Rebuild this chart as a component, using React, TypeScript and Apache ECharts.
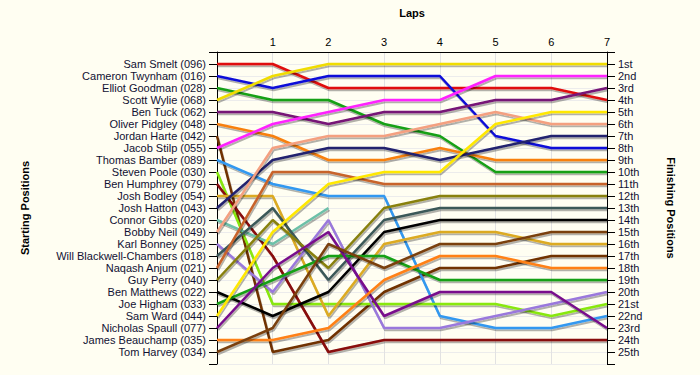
import React, { useEffect, useRef } from "react";
import * as echarts from "echarts";

const laps = [0, 1, 2, 3, 4, 5, 6, 7];
const startNames = [
  "Sam Smelt (096)", "Cameron Twynham (016)", "Elliot Goodman (028)", "Scott Wylie (068)",
  "Ben Tuck (062)", "Oliver Pidgley (048)", "Jordan Harte (042)", "Jacob Stilp (055)",
  "Thomas Bamber (089)", "Steven Poole (030)", "Ben Humphrey (079)", "Josh Bodley (054)",
  "Josh Hatton (043)", "Connor Gibbs (020)", "Bobby Neil (049)", "Karl Bonney (025)",
  "Will Blackwell-Chambers (018)", "Naqash Anjum (021)", "Guy Perry (040)", "Ben Matthews (022)",
  "Joe Higham (033)", "Sam Ward (044)", "Nicholas Spaull (077)", "James Beauchamp (035)",
  "Tom Harvey (034)",
];
const finishLabels = [
  "1st", "2nd", "3rd", "4th", "5th", "6th", "7th", "8th", "9th", "10th", "11th", "12th",
  "13th", "14th", "15th", "16th", "17th", "18th", "19th", "20th", "21st", "22nd", "23rd",
  "24th", "25th",
];

// positions at laps 0..7
const samSmelt = [1, 1, 3, 3, 3, 3, 3, 4];
const cameronTwynham = [2, 3, 2, 2, 2, 7, 8, 8];
const elliotGoodman = [3, 4, 4, 6, 7, 10, 10, 10];
const scottWylie = [4, 2, 1, 1, 1, 1, 1, 1];
const benTuck = [5, 5, 6, 5, 5, 4, 4, 3];
const oliverPidgley = [6, 7, 9, 9, 8, 9, 9, 9];
const jordanHarte = [7, 25, 24, 20, 18, 18, 17, 17];
const jacobStilp = [8, 6, 5, 4, 4, 2, 2, 2];
const thomasBamber = [9, 11, 12, 12, 22, 23, 23, 22];
const stevenPoole = [10, 21, 21, 21, 21, 21, 22, 21];
const benHumphrey = [11, 17, 25, 24, 24, 24, 24, 24];
const joshBodley = [12, 12, 22, 16, 15, 15, 16, 16];
const joshHatton = [13, 9, 8, 8, 9, 8, 7, 7];
const connorGibbs = [14, 16, 13, null, null, null, null, null];
const bobbyNeil = [15, 8, 7, 7, 6, 5, 6, 6];
const karlBonney = [16, 20, 14, 23, 23, 22, 21, 20];
const willBlackwellChambers = [17, 13, 19, 14, 13, 13, 13, 13];
const naqashAnjum = [18, 10, 10, 11, 11, 11, 11, 11];
const guyPerry = [19, 14, 18, 13, 12, 12, 12, 12];
const benMatthews = [20, 22, 20, 15, 14, 14, 14, 14];
const joeHigham = [21, 19, 17, 17, 19, 19, 19, 19];
const samWard = [22, 15, 11, 10, 10, 6, 5, 5];
const nicholasSpaull = [23, 18, 15, 22, 20, 20, 20, 23];
const jamesBeauchamp = [24, 24, 23, 19, 17, 17, 18, 18];
const tomHarvey = [25, 23, 16, 18, 16, 16, 15, 15];

const driverPositions = [
  samSmelt, cameronTwynham, elliotGoodman, scottWylie, benTuck, oliverPidgley, jordanHarte,
  jacobStilp, thomasBamber, stevenPoole, benHumphrey, joshBodley, joshHatton, connorGibbs,
  bobbyNeil, karlBonney, willBlackwellChambers, naqashAnjum, guyPerry, benMatthews, joeHigham,
  samWard, nicholasSpaull, jamesBeauchamp, tomHarvey,
];

const colors = [
  "#e01010", "#1010d8", "#16a016", "#f0dc00", "#761276", "#f88010", "#703000",
  "#ff20ff", "#3398f0", "#88e810", "#880808", "#dcaa20", "#20206e", "#6cc0a8",
  "#f4a080", "#9a78dc", "#3a5858", "#c8642a", "#888010", "#000000", "#16a016",
  "#ffe800", "#780c8c", "#ff8014", "#7a4010",
];

export default function App() {
  const ref = useRef<HTMLDivElement>(null);
  useEffect(() => {
    if (!ref.current) return;
    const chart = echarts.init(ref.current, null, { renderer: "svg" });
    const font = "Liberation Sans";
    const series = driverPositions.map((pos, i) => ({
      type: "line",
      name: startNames[i],
      yAxisIndex: 0,
      symbol: "none",
      connectNulls: false,
      z: 2 + i,
      data: laps.map((l, j) => [l, pos[j]]),
      lineStyle: {
        color: colors[i],
        width: 2.5,
        shadowColor: "rgba(0,0,0,0.3)",
        shadowOffsetY: 2,
        shadowOffsetX: 1,
        shadowBlur: 1,
      },
    }));
    chart.setOption({
      animation: false,
      backgroundColor: "#fffef2",
      grid: { left: 217, right: 93, top: 52, bottom: 11 },
      xAxis: {
        type: "value",
        position: "top",
        min: 0,
        max: 7,
        interval: 1,
        name: "Laps",
        nameLocation: "middle",
        nameGap: 34,
        nameTextStyle: { fontFamily: font, fontSize: 11, fontWeight: "bold", color: "#000" },
        axisLine: { show: true, lineStyle: { color: "#000", width: 1 } },
        axisTick: { show: false },
        axisLabel: {
          margin: 5,
          fontFamily: font,
          fontSize: 11,
          color: "#000",
          formatter: (v: number) => (v === 0 ? "" : String(v)),
        },
        splitLine: { show: true, lineStyle: { color: "#e2e2e2", width: 1 } },
      },
      yAxis: [
        {
          type: "value",
          inverse: true,
          min: 0,
          max: 26,
          interval: 1,
          position: "left",
          name: "Starting Positions",
          nameLocation: "middle",
          nameGap: 187,
          nameRotate: 90,
          nameTextStyle: { fontFamily: font, fontSize: 11, fontWeight: "bold", color: "#000" },
          axisLine: { show: true, lineStyle: { color: "#000", width: 1 } },
          axisTick: { show: true, length: 8, lineStyle: { color: "#000" } },
          axisLabel: {
            margin: 11,
            fontFamily: font,
            fontSize: 11,
            color: "#111133",
            formatter: (v: number) => startNames[v - 1] ?? "",
          },
          splitLine: { show: true, lineStyle: { color: "#ececec", width: 1 } },
        },
        {
          type: "value",
          inverse: true,
          min: 0,
          max: 26,
          interval: 1,
          position: "right",
          name: "Finishing Positions",
          nameLocation: "middle",
          nameGap: 58,
          nameRotate: -90,
          nameTextStyle: { fontFamily: font, fontSize: 11, fontWeight: "bold", color: "#000" },
          axisLine: { show: true, lineStyle: { color: "#000", width: 1 } },
          axisTick: { show: true, length: 8, lineStyle: { color: "#000" } },
          axisLabel: {
            margin: 11,
            fontFamily: font,
            fontSize: 11,
            color: "#111133",
            formatter: (v: number) => finishLabels[v - 1] ?? "",
          },
          splitLine: { show: false },
        },
      ],
      series,
    });
    return () => chart.dispose();
  }, []);
  return (
    <div
      ref={ref}
      style={{ position: "fixed", left: 0, top: 0, width: 700, height: 375 }}
    />
  );
}
